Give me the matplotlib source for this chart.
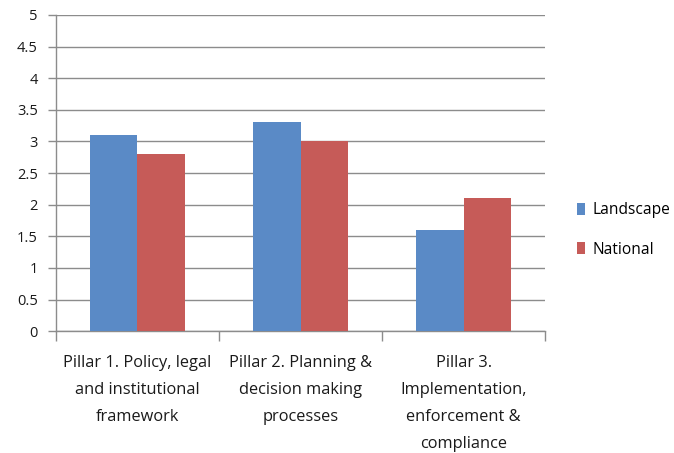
import matplotlib.pyplot as plt
import numpy as np

categories = ["Pillar 1. Policy, legal\nand institutional\nframework",
              "Pillar 2. Planning &\ndecision making\nprocesses",
              "Pillar 3.\nImplementation,\nenforcement &\ncompliance"]
landscape = [3.1, 3.3, 1.6]
national = [2.8, 3.0, 2.1]
yticks = [0, 0.5, 1, 1.5, 2, 2.5, 3, 3.5, 4, 4.5, 5]
ytick_labels = ["0", "0.5", "1", "1.5", "2", "2.5", "3", "3.5", "4", "4.5", "5"]

plt.rcParams['font.family'] = ['Open Sans', 'DejaVu Sans']

fig = plt.figure(figsize=(6.74, 4.53), dpi=100)
ax = fig.add_axes([0.083, 0.269, 0.726, 0.698])

x = np.arange(len(categories))
w = 0.29
ax.bar(x - w/2, landscape, w, color='#5A8AC6', label='Landscape', zorder=3)
ax.bar(x + w/2, national, w, color='#C65B58', label='National', zorder=3)

ax.set_xlim(-0.5, 2.5)
ax.set_ylim(0, 5)
ax.set_yticks(yticks)
ax.set_yticklabels(ytick_labels, fontsize=10.5, color='#1a1a1a')
ax.yaxis.grid(True, color='#8c8c8c', linewidth=1.0, zorder=0)

ax.set_xticks(x)
ax.set_xticklabels(categories, fontsize=11.8, color='#1a1a1a', linespacing=1.92)
ax.tick_params(axis='x', which='major', length=0, pad=17)
ax.set_xticks([-0.5, 0.5, 1.5, 2.5], minor=True)
ax.tick_params(axis='x', which='minor', length=7, color='#8c8c8c', width=1)
ax.tick_params(axis='y', length=6, color='#8c8c8c', width=1, pad=7)

for side in ['top', 'right']:
    ax.spines[side].set_visible(False)
for side in ['left', 'bottom']:
    ax.spines[side].set_color('#8c8c8c')
    ax.spines[side].set_linewidth(1.0)

ax.legend(loc='center left', bbox_to_anchor=(1.036, 0.32), frameon=False,
          fontsize=11.2, handlelength=0.55, handleheight=0.85,
          handletextpad=0.45, labelspacing=1.5)

fig.savefig('out.png', dpi=100)
